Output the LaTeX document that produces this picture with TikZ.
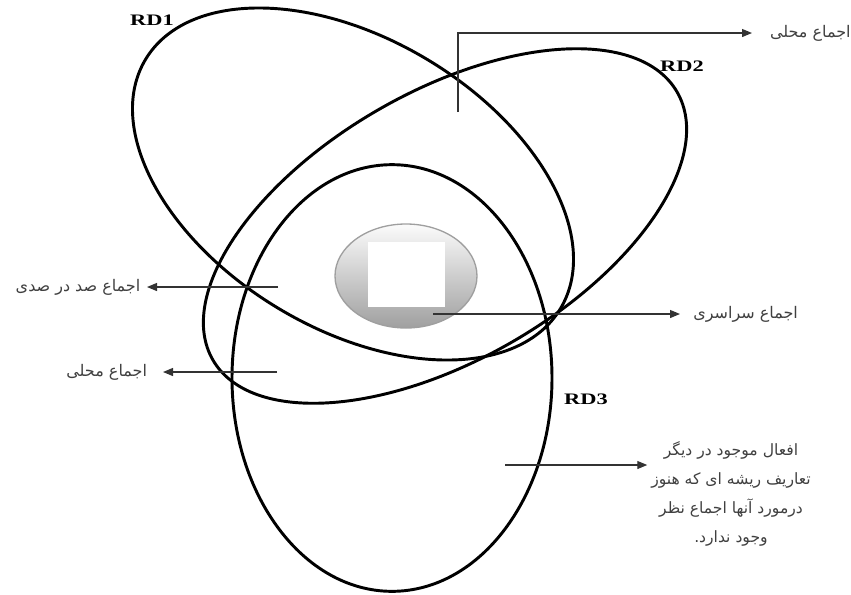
\documentclass[tikz,border=0pt]{standalone}
\usepackage{fontspec}
\usetikzlibrary{arrows.meta,shapes.geometric}
\TeXXeTstate=1
\newfontfamily\arabicfont[Script=Arabic]{DejaVu Sans}
\newfontfamily\rdfont[FakeStretch=1.4]{Liberation Serif}
\begin{document}
\begin{tikzpicture}[x=0.75pt,y=-0.75pt,
  ring/.style={ellipse, draw=black, line width=2.2pt, inner sep=0pt},
  conn/.style={draw=black!80, line width=0.9pt},
  arr/.style={conn, -{Triangle[length=7.5pt,width=6pt]}},
  rdlabel/.style={font=\rdfont\bfseries\fontsize{12}{14}\selectfont, inner sep=0pt},
  lbl/.style={font=\arabicfont\fontsize{12}{14}\selectfont, text=black!75, inner sep=0pt}]
\useasboundingbox (0,0) rectangle (851,594);
% rings
\node[ring, minimum width=363pt, minimum height=217.5pt, rotate=-31] (rd1) at (353,184) {};
\node[ring, minimum width=402pt, minimum height=201pt, rotate=30] (rd2) at (445,226) {};
\node[ring, minimum width=240pt, minimum height=320pt] (rd3) at (392,378) {};
% hub
\node[ellipse, minimum width=106.5pt, minimum height=78pt, top color=gray!3, bottom color=gray!75, draw=gray!75, line width=1pt] (hub) at (406,276) {};
\node[fill=white, minimum width=57.75pt, minimum height=48.75pt, inner sep=0pt] (sq) at (406.5,274.5) {};
% labels
\node[rdlabel] (l1) at (152,20) {RD1};
\node[rdlabel] (l2) at (682,66) {RD2};
\node[rdlabel] (l3) at (586,399) {RD3};
\node[lbl, anchor=west, outer sep=13.5pt] (t1) at (752,33) {\beginR اجماع محلی\endR};
\node[lbl, anchor=west, outer sep=10pt] (t2) at (680,314) {\beginR اجماع سراسری\endR};
\node[lbl, anchor=east, outer sep=5pt] (t3) at (147,287) {\beginR اجماع صد در صدی\endR};
\node[lbl, anchor=east, outer sep=12pt] (t4) at (163,372) {\beginR اجماع محلی\endR};
\node[lbl, align=center, outer sep=3pt, font=\arabicfont\fontsize{11.7}{21.75}\selectfont] (t5) at (731,494)
  {\beginR افعال موجود در دیگر\endR\\ \beginR تعاریف ریشه ای که هنوز\endR\\ \beginR درمورد آنها اجماع نظر\endR\\ \beginR وجود ندارد.\endR};
% connectors
\coordinate (s1) at (458,112);
\coordinate (s2) at (433,314);
\coordinate (s3) at (278,287);
\coordinate (s4) at (277,372);
\coordinate (s5) at (505,465);
\draw[arr] (s1) |- (t1);
\draw[arr] (s2) -- (t2);
\draw[arr] (s3) -- (t3);
\draw[arr] (s4) -- (t4);
\draw[arr] (s5) -- (s5 -| t5.west);
\end{tikzpicture}
\end{document}
